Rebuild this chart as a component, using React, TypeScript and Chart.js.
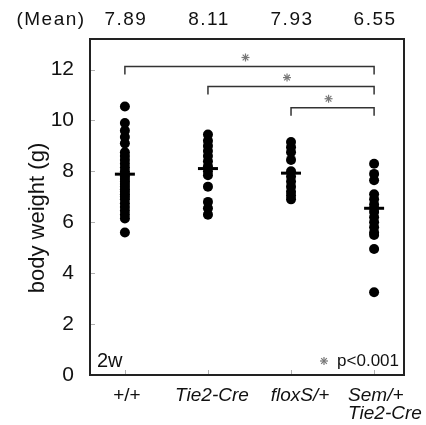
import { useEffect, useRef } from "react";
import { Chart, registerables } from "chart.js";

Chart.register(...registerables);

const categories: string[][] = [["+/+"], ["Tie2-Cre"], ["floxS/+"], ["Sem/+", "Tie2-Cre"]];
const meanLabels = ["7.89", "8.11", "7.93", "6.55"];
const means = [7.89, 8.11, 7.93, 6.55];

const wildType = [10.55, 9.9, 9.6, 9.35, 9.1, 8.75, 8.6, 8.45, 8.3, 8.15, 8.0, 7.9, 7.8, 7.7, 7.6, 7.5, 7.4, 7.3, 7.2, 7.1, 7.0, 6.9, 6.75, 6.6, 6.45, 6.3, 6.15, 5.6];
const tie2Cre = [9.45, 9.2, 9.0, 8.8, 8.6, 8.4, 8.2, 8.0, 7.85, 7.4, 6.8, 6.55, 6.3];
const floxS = [9.15, 8.95, 8.75, 8.45, 8.0, 7.8, 7.6, 7.4, 7.2, 7.05, 6.9];
const semTie2 = [8.3, 7.9, 7.65, 7.1, 6.9, 6.7, 6.55, 6.4, 6.2, 6.0, 5.8, 5.6, 5.5, 4.95, 3.25];

const groups = [wildType, tie2Cre, floxS, semTie2];

// brackets: [fromGroup, toGroup, yValue]
const brackets: [number, number, number][] = [
  [1, 4, 12.12],
  [2, 4, 11.33],
  [3, 4, 10.5],
];

const yTicks = [0, 2, 4, 6, 8, 10, 12];
const FONT = "'Liberation Sans', Arial, Helvetica, sans-serif";

export default function App() {
  const ref = useRef<HTMLCanvasElement | null>(null);

  useEffect(() => {
    document.body.style.margin = "0";
    const canvas = ref.current;
    if (!canvas) return;

    const pointData: { x: number; y: number }[] = [];
    groups.forEach((g, i) => g.forEach((v) => pointData.push({ x: i + 1, y: v })));
    const meanData = means.map((m, i) => ({ x: i + 1, y: m }));

    const drawStar = (ctx: CanvasRenderingContext2D, x: number, y: number) => {
      ctx.save();
      ctx.strokeStyle = "#777";
      ctx.lineWidth = 1.2;
      const r = 4;
      for (let k = 0; k < 4; k++) {
        const a = (k * Math.PI) / 4;
        ctx.beginPath();
        ctx.moveTo(x - Math.cos(a) * r, y - Math.sin(a) * r);
        ctx.lineTo(x + Math.cos(a) * r, y + Math.sin(a) * r);
        ctx.stroke();
      }
      ctx.restore();
    };

    const decor = {
      id: "decor",
      afterDraw(chart: any) {
        const { ctx, chartArea } = chart;
        const xs = chart.scales.x;
        const ys = chart.scales.y;
        ctx.save();
        // inner ticks
        ctx.strokeStyle = "#b0b0b0";
        ctx.lineWidth = 1;
        yTicks.forEach((t) => {
          const y = Math.round(ys.getPixelForValue(t)) + 0.5;
          ctx.beginPath();
          ctx.moveTo(chartArea.left, y);
          ctx.lineTo(chartArea.left + 5, y);
          ctx.stroke();
        });
        categories.forEach((_, i) => {
          const x = Math.round(xs.getPixelForValue(i + 1)) + 0.5;
          ctx.beginPath();
          ctx.moveTo(x, chartArea.bottom);
          ctx.lineTo(x, chartArea.bottom - 5);
          ctx.stroke();
        });
        // box
        ctx.strokeStyle = "#222";
        ctx.lineWidth = 2;
        ctx.strokeRect(chartArea.left, chartArea.top, chartArea.right - chartArea.left, chartArea.bottom - chartArea.top);
        // brackets
        ctx.strokeStyle = "#333";
        ctx.lineWidth = 1.5;
        brackets.forEach(([a, b, v]) => {
          const x1 = xs.getPixelForValue(a);
          const x2 = xs.getPixelForValue(b);
          const y = ys.getPixelForValue(v);
          ctx.beginPath();
          ctx.moveTo(x1, y + 8);
          ctx.lineTo(x1, y);
          ctx.lineTo(x2, y);
          ctx.lineTo(x2, y + 8);
          ctx.stroke();
          drawStar(ctx, (x1 + x2) / 2 - 4, y - 9);
        });
        // mean labels
        ctx.fillStyle = "#111";
        ctx.font = `19px ${FONT}`;
        (ctx as any).letterSpacing = "1.5px";
        ctx.textAlign = "center";
        ctx.textBaseline = "middle";
        ctx.fillText("(Mean)", 51, 20);
        meanLabels.forEach((m, i) => {
          ctx.fillText(m, xs.getPixelForValue(i + 1) + 1, 20);
        });
        (ctx as any).letterSpacing = "0px";
        // x category labels
        ctx.textBaseline = "alphabetic";
        const offsets = [2, 4, 9, -26];
        categories.forEach((lines, i) => {
          const px = xs.getPixelForValue(i + 1) + offsets[i];
          ctx.font = `${i === 0 ? "normal" : "italic"} 19px ${FONT}`;
          ctx.textAlign = lines.length > 1 ? "left" : "center";
          lines.forEach((t, j) => ctx.fillText(t, px, chartArea.bottom + 26 + j * 18));
        });
        // y title
        ctx.save();
        ctx.translate(38, 218);
        ctx.rotate(-Math.PI / 2);
        ctx.font = `22px ${FONT}`;
        ctx.textAlign = "center";
        ctx.textBaseline = "middle";
        ctx.fillText("body weight (g)", 0, 0);
        ctx.restore();
        // 2w
        ctx.textAlign = "left";
        ctx.textBaseline = "alphabetic";
        ctx.font = `20px ${FONT}`;
        ctx.fillText("2w", chartArea.left + 7, chartArea.bottom - 8);
        // p value
        ctx.textAlign = "right";
        ctx.font = `17px ${FONT}`;
        ctx.fillText("p<0.001", chartArea.right - 5, chartArea.bottom - 9);
        drawStar(ctx, chartArea.right - 80, chartArea.bottom - 14);
        ctx.restore();
      },
    };

    const chart = new Chart(canvas, {
      type: "scatter",
      data: {
        datasets: [
          {
            data: pointData,
            backgroundColor: "#000",
            borderColor: "#000",
            pointRadius: 5,
            pointHoverRadius: 5,
            borderWidth: 0,
          },
          {
            data: meanData,
            pointStyle: "line",
            borderColor: "#000",
            backgroundColor: "#000",
            pointRadius: 10,
            pointHoverRadius: 10,
            borderWidth: 3,
          },
        ],
      },
      options: {
        animation: false,
        responsive: false,
        events: [],
        layout: { padding: { top: 39, right: 22, bottom: 50, left: 0 } },
        plugins: { legend: { display: false }, tooltip: { enabled: false } },
        scales: {
          x: {
            type: "linear",
            min: 0.58,
            max: 4.36,
            display: false,
          },
          y: {
            min: 0,
            max: 13.2,
            grid: { display: false },
            border: { display: false },
            ticks: {
              stepSize: 2,
              includeBounds: false,
              color: "#111",
              padding: 8,
              font: { family: FONT, size: 21 },
            },
            afterFit: (scale: any) => {
              scale.width = 90;
            },
          },
        },
      },
      plugins: [decor],
    });
    return () => chart.destroy();
  }, []);

  return (
    <div style={{ width: 426, height: 425 }}>
      <canvas ref={ref} width={426} height={425} style={{ display: "block" }} />
    </div>
  );
}
